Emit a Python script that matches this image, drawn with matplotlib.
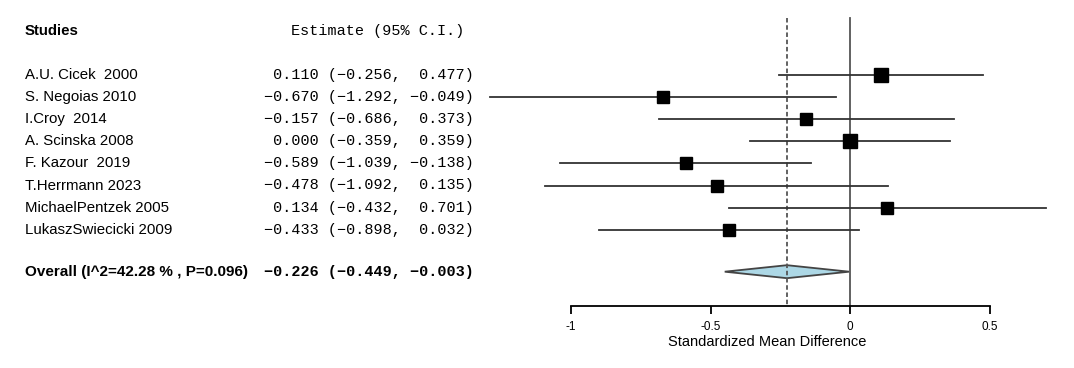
import numpy as np
import matplotlib
matplotlib.use("Agg")
import matplotlib.pyplot as plt
from matplotlib.transforms import blended_transform_factory

# data
studies = ["A.U. Cicek  2000", "S. Negoias 2010", "I.Croy  2014", "A. Scinska 2008",
           "F. Kazour  2019", "T.Herrmann 2023", "MichaelPentzek 2005",
           "LukaszSwiecicki 2009"]
est = [0.110, -0.670, -0.157, 0.000, -0.589, -0.478, 0.134, -0.433]
lower = [-0.256, -1.292, -0.686, -0.359, -1.039, -1.092, -0.432, -0.898]
upper = [0.477, -0.049, 0.373, 0.359, -0.138, 0.135, 0.701, 0.032]
overall_label = "Overall (I^2=42.28 % , P=0.096)"
overall = [-0.226, -0.449, -0.003]
xticks = [-1, -0.5, 0, 0.5]

# layout (pixels of the 1074x368 picture)
W, H = 1074, 368
x0_px, px_per_unit = 850, 279
row0_px, row_px = 75, 22.1

fig = plt.figure(figsize=(W / 100, H / 100), dpi=100)
ax = fig.add_axes([0, 0, 1, 1])
ax.set_xlim(-x0_px / px_per_unit, (W - x0_px) / px_per_unit)
ax.set_ylim((H - row0_px) / row_px, -row0_px / row_px)

n = len(studies)
rows = np.arange(n)
y_over = n + 0.9
y_head = -2
y_axis = (306 - row0_px) / row_px
y_top = (18 - row0_px) / row_px

# reference lines
ax.plot([0, 0], [y_top, y_axis], color="#555555", lw=1.3)
ax.plot([overall[0]] * 2, [y_top, y_axis], color="#555555", lw=1.3, ls=(0, (2.5, 1.5)))

# study CIs and squares (size ~ sqrt of inverse CI width)
width = np.array(upper) - np.array(lower)
sizes = 12.3 * np.sqrt(1 / width) * 0.72
for i in range(n):
    ax.plot([lower[i], upper[i]], [rows[i], rows[i]], color="#333333", lw=1.3)
    ax.plot(est[i], rows[i], marker="s", ms=sizes[i], color="black", mec="black")

# overall diamond
dh = 6.5 / row_px
ax.fill([overall[1], overall[0], overall[2], overall[0]],
        [y_over, y_over - dh, y_over, y_over + dh],
        facecolor="#add8e6", edgecolor="#444444", lw=1.3)

# axis
for s in ["top", "left", "right"]:
    ax.spines[s].set_visible(False)
ax.spines["bottom"].set_position(("data", y_axis))
ax.spines["bottom"].set_bounds(xticks[0], xticks[-1])
ax.spines["bottom"].set_linewidth(1.3)
ax.set_xticks(xticks)
ax.set_xticklabels(["-1", "-0.5", "0", "0.5"], fontsize=8.5, family="Liberation Sans")
ax.tick_params(axis="x", direction="out", length=6, width=1.3, pad=5)
ax.set_yticks([])
ax.text(-0.297, (342 - row0_px) / row_px, "Standardized Mean Difference",
        ha="center", va="center", fontsize=10.5, family="Liberation Sans")

# text columns
tr = blended_transform_factory(fig.transFigure, ax.transData)
name_x = 25 / W
est_x = 474 / W
fs_name = 10.8
fs_mono = 10.9
ax.text(name_x, y_head, "Studies", transform=tr, ha="left", va="center",
        fontsize=fs_name, fontweight="bold", family="Liberation Sans")
ax.text(291 / W, y_head, "Estimate (95% C.I.)", transform=tr, ha="left", va="center",
        fontsize=fs_mono, family="Liberation Mono")


def fmt(v):
    return f"{v:6.3f}".replace("-", "\u2212")


for i in range(n):
    ax.text(name_x, rows[i], studies[i], transform=tr, ha="left", va="center",
            fontsize=fs_name, family="Liberation Sans")
    ax.text(est_x, rows[i], f"{fmt(est[i])} ({fmt(lower[i])}, {fmt(upper[i])})",
            transform=tr, ha="right", va="center", fontsize=fs_mono, family="Liberation Mono")

ax.text(name_x, y_over, overall_label, transform=tr, ha="left", va="center",
        fontsize=11, fontweight="bold", family="Liberation Sans")
ax.text(est_x, y_over, f"{fmt(overall[0])} ({fmt(overall[1])}, {fmt(overall[2])})",
        transform=tr, ha="right", va="center", fontsize=fs_mono, fontweight="bold",
        family="Liberation Mono")

fig.savefig("out.png", dpi=100)
